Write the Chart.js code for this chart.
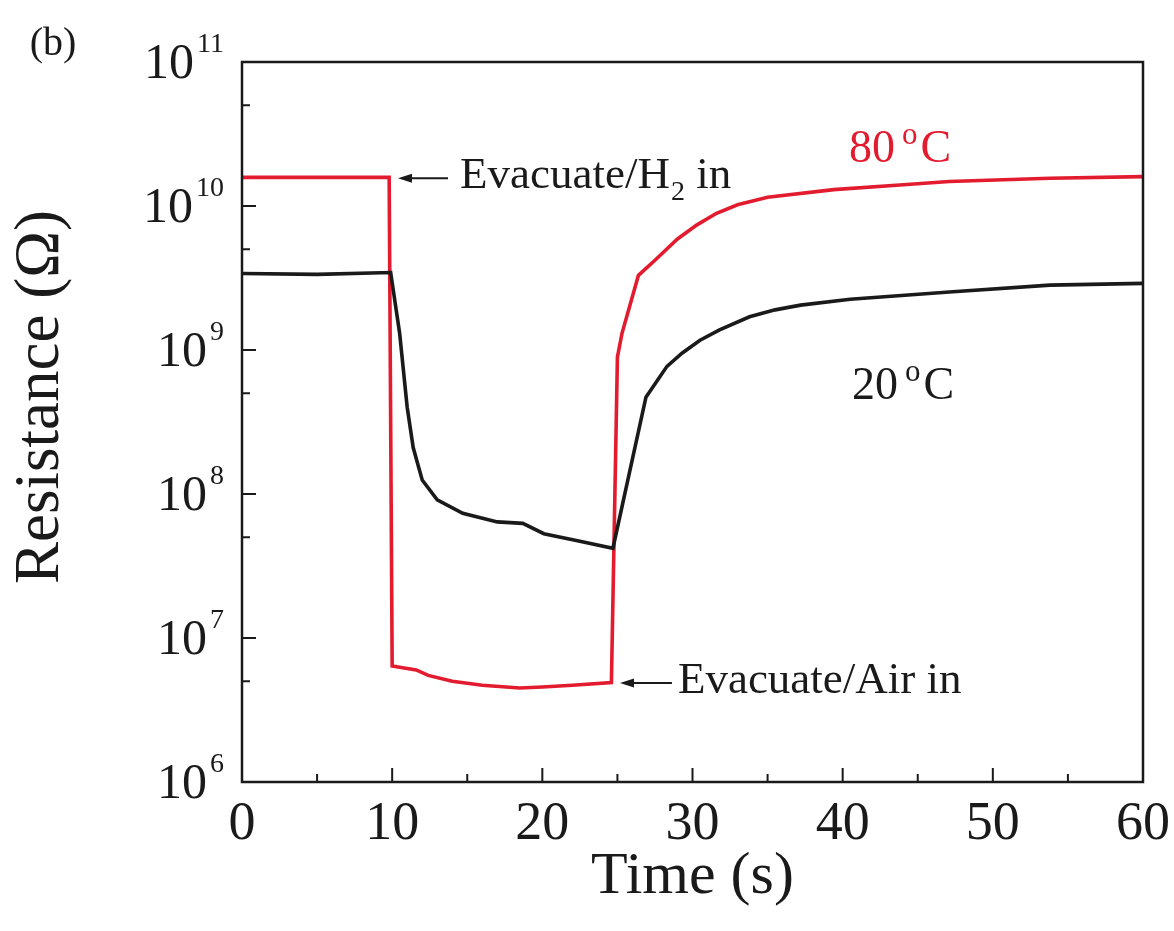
<!DOCTYPE html>
<html>
<head>
<meta charset="utf-8">
<title>Resistance vs time</title>
<script src="https://cdn.jsdelivr.net/npm/chart.js@4.4.1/dist/chart.umd.min.js"></script>
<style>
    html, body { margin: 0; padding: 0; background: #fff; }
    #wrap { width: 1174px; height: 931px; }
</style>
</head>
<body>
<div id="wrap"><canvas id="resistanceChart" width="1174" height="931"></canvas></div>
<script>
// 80 ºC curve (time in s, resistance in ohm)
const time80 = [0, 5, 9.8, 10.0, 11.6, 12.4, 14, 16, 18.5, 20, 22, 24.6, 25.0, 25.3, 26.4, 27.5, 29.0, 30.3, 31.6, 33, 35, 39.4, 43.8, 47.1, 53.8, 60];
const res80 = [1.58e10, 1.58e10, 1.58e10, 6.4e6, 6.0e6, 5.5e6, 5.0e6, 4.7e6, 4.5e6, 4.57e6, 4.7e6, 4.9e6, 8.9e8, 1.3e9, 3.3e9, 4.2e9, 5.9e9, 7.4e9, 8.9e9, 1.02e10, 1.15e10, 1.3e10, 1.4e10, 1.48e10, 1.56e10, 1.6e10];

// 20 ºC curve
const time20 = [0, 5, 9.9, 10.5, 11.0, 11.4, 12.0, 13.0, 14.7, 17.0, 18.7, 20.1, 22.5, 24.7, 26.9, 28.3, 29.3, 30.5, 31.8, 33.8, 35.5, 37.2, 40.5, 47.1, 53.8, 60];
const res20 = [3.4e9, 3.35e9, 3.45e9, 1.3e9, 4.0e8, 2.1e8, 1.25e8, 9.1e7, 7.35e7, 6.4e7, 6.25e7, 5.3e7, 4.7e7, 4.2e7, 4.7e8, 7.7e8, 9.5e8, 1.17e9, 1.38e9, 1.7e9, 1.9e9, 2.05e9, 2.25e9, 2.53e9, 2.82e9, 2.9e9];

const xMajorTicks = [0, 10, 20, 30, 40, 50, 60];
const xMinorTicks = [5, 15, 25, 35, 45, 55];
const yMajorTicks = [1e6, 1e7, 1e8, 1e9, 1e10, 1e11];
const yMinorTicks = [5e6, 5e7, 5e8, 5e9, 5e10];

const SERIF = "'Liberation Serif', 'Times New Roman', serif";
const RED = '#e31b2f';
const INK = '#1a1a1a';

const toPoints = (xs, ys) => xs.map((x, i) => ({ x, y: ys[i] }));

// draws the text "<pre><sup>o</sup>C" starting at x, middle aligned at y
const drawDegreeLabel = (ctx, x, y, pre, color) => {
    ctx.fillStyle = color;
    ctx.textAlign = 'left';
    ctx.textBaseline = 'middle';
    ctx.font = `46px ${SERIF}`;
    ctx.fillText(pre, x, y);
    let cx = x + ctx.measureText(pre).width + 7;
    ctx.font = `31px ${SERIF}`;
    ctx.fillText('o', cx, y - 14);
    cx += ctx.measureText('o').width + 3;
    ctx.font = `46px ${SERIF}`;
    ctx.fillText('C', cx, y);
}

const drawArrow = (ctx, x1, x2, y) => {
    ctx.strokeStyle = INK;
    ctx.fillStyle = INK;
    ctx.lineWidth = 2;
    ctx.beginPath();
    ctx.moveTo(x2, y);
    ctx.lineTo(x1 + 10, y);
    ctx.stroke();
    ctx.beginPath();
    ctx.moveTo(x1, y);
    ctx.lineTo(x1 + 14, y - 4.5);
    ctx.lineTo(x1 + 14, y + 4.5);
    ctx.closePath();
    ctx.fill();
}

const framePlugin = {
    id: 'frameAndLabels',
    afterDatasetsDraw(chart) {
        const { ctx, chartArea: a, scales: { x, y } } = chart;
        ctx.save();

        // frame
        ctx.strokeStyle = INK;
        ctx.lineWidth = 2.5;
        ctx.strokeRect(a.left, a.top, a.right - a.left, a.bottom - a.top);

        // inward ticks on bottom and left axes
        ctx.lineWidth = 2;
        ctx.beginPath();
        xMajorTicks.forEach(v => {
            const px = x.getPixelForValue(v);
            ctx.moveTo(px, a.bottom);
            ctx.lineTo(px, a.bottom - 14);
        });
        xMinorTicks.forEach(v => {
            const px = x.getPixelForValue(v);
            ctx.moveTo(px, a.bottom);
            ctx.lineTo(px, a.bottom - 8);
        });
        yMajorTicks.forEach(v => {
            const py = y.getPixelForValue(v);
            ctx.moveTo(a.left, py);
            ctx.lineTo(a.left + 14, py);
        });
        yMinorTicks.forEach(v => {
            const py = y.getPixelForValue(v);
            ctx.moveTo(a.left, py);
            ctx.lineTo(a.left + 8, py);
        });
        ctx.stroke();

        // y tick labels as 10^n
        ctx.fillStyle = INK;
        ctx.textBaseline = 'middle';
        ctx.textAlign = 'left';
        yMajorTicks.forEach(v => {
            const py = y.getPixelForValue(v);
            const exp = String(Math.round(Math.log10(v)));
            ctx.font = `28px ${SERIF}`;
            const expW = ctx.measureText(exp).width;
            ctx.font = `50px ${SERIF}`;
            const baseW = ctx.measureText('10').width;
            const right = a.left - 18;
            ctx.fillText('10', right - expW - 3 - baseW, py + 3);
            ctx.font = `28px ${SERIF}`;
            ctx.fillText(exp, right - expW, py - 17);
        });

        // y axis title
        ctx.save();
        ctx.translate(41, 397);
        ctx.rotate(-Math.PI / 2);
        ctx.textAlign = 'center';
        ctx.font = `63px ${SERIF}`;
        ctx.fillText('Resistance (\u03A9)', 0, 0);
        ctx.restore();

        // panel letter
        ctx.textAlign = 'center';
        ctx.font = `40px ${SERIF}`;
        ctx.fillText('(b)', 53, 44);

        // H2 arrow + text
        const h2y = y.getPixelForValue(1.56e10);
        drawArrow(ctx, x.getPixelForValue(10.39), x.getPixelForValue(13.72), h2y);
        ctx.fillStyle = INK;
        ctx.textAlign = 'left';
        ctx.font = `45px ${SERIF}`;
        let tx = x.getPixelForValue(14.52);
        ctx.fillText('Evacuate/H', tx, h2y - 2);
        tx += ctx.measureText('Evacuate/H').width + 1;
        ctx.font = `28px ${SERIF}`;
        ctx.fillText('2', tx, h2y + 14);
        tx += ctx.measureText('2').width;
        ctx.font = `45px ${SERIF}`;
        ctx.fillText(' in', tx, h2y - 2);

        // air arrow + text
        const airY = y.getPixelForValue(4.87e6);
        drawArrow(ctx, x.getPixelForValue(25.17), x.getPixelForValue(28.63), airY);
        ctx.fillStyle = INK;
        ctx.font = `45px ${SERIF}`;
        ctx.fillText('Evacuate/Air in', x.getPixelForValue(29.03), airY - 2);

        // curve labels
        drawDegreeLabel(ctx, x.getPixelForValue(40.42), y.getPixelForValue(2.45e10), '80', RED);
        drawDegreeLabel(ctx, x.getPixelForValue(40.62), y.getPixelForValue(5.53e8), '20', INK);

        ctx.restore();
    }
};

const canvas = document.getElementById('resistanceChart');

const chart = new Chart(canvas.getContext('2d'), {
    type: 'line',
    data: {
        datasets: [
            {
                label: '20 ºC',
                data: toPoints(time20, res20),
                borderColor: INK,
                borderWidth: 3.6,
                pointRadius: 0,
                tension: 0,
                fill: false
            },
            {
                label: '80 ºC',
                data: toPoints(time80, res80),
                borderColor: RED,
                borderWidth: 3.6,
                pointRadius: 0,
                tension: 0,
                fill: false
            }
        ]
    },
    options: {
        responsive: false,
        animation: false,
        layout: { padding: { top: 62, right: 31, bottom: 0, left: 0 } },
        scales: {
            x: {
                type: 'linear',
                min: 0,
                max: 60,
                grid: { display: false, drawTicks: false },
                border: { display: false },
                ticks: {
                    stepSize: 10,
                    autoSkip: false,
                    maxRotation: 0,
                    padding: 10,
                    color: INK,
                    font: { family: SERIF, size: 54 }
                },
                title: {
                    display: true,
                    text: 'Time (s)',
                    color: INK,
                    font: { family: SERIF, size: 60 },
                    padding: { top: 0, bottom: 18 }
                },
                afterFit: (scale) => {
                    scale.height = 149;
                    scale.paddingLeft = 0;
                    scale.paddingRight = 0;
                }
            },
            y: {
                type: 'logarithmic',
                min: 1e6,
                max: 1e11,
                grid: { display: false, drawTicks: false },
                border: { display: false },
                ticks: { display: false },
                afterFit: (scale) => { scale.width = 242; }
            }
        },
        plugins: {
            legend: { display: false },
            tooltip: { enabled: false }
        }
    },
    plugins: [framePlugin]
});
</script>
</body>
</html>
